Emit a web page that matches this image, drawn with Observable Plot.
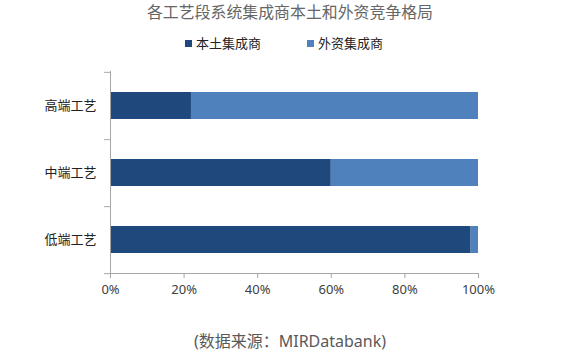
<!DOCTYPE html>
<html>
<head>
<meta charset="utf-8">
<script src="https://cdn.jsdelivr.net/npm/d3@7"></script>
<script src="https://cdn.jsdelivr.net/npm/@observablehq/plot@0.6"></script>
<style>
  html, body { margin: 0; padding: 0; background: #fff; }
  #wrap { position: relative; width: 588px; height: 356px; overflow: hidden;
    font-family: "Noto Sans", "Noto Sans CJK SC", sans-serif; }
  #title { position: absolute; top: 1px; left: -4px; width: 588px; text-align: center; white-space: nowrap;
    font-size: 15.9px; color: #666; line-height: 22px; }
  #legend { position: absolute; top: 34px; left: 0; width: 588px; height: 18px; }
  .li { position: absolute; top: 0; font-size: 13px; color: #222; line-height: 18px; white-space: nowrap; }
  .sw { display: inline-block; width: 7px; height: 7px; margin-right: 4px; vertical-align: 1px; }
  #chart { position: absolute; top: 60px; left: 0; }
  #caption { position: absolute; top: 330px; left: -4px; width: 588px; text-align: center; white-space: nowrap;
    font-size: 16px; color: #595959; line-height: 22px; }
</style>
</head>
<body>
<div id="wrap">
  <div id="title">各工艺段系统集成商本土和外资竞争格局</div>
  <div id="legend"></div>
  <div id="chart"></div>
  <div id="caption">(数据来源：MIRDatabank)</div>
</div>
<script>
const categories = ["高端工艺", "中端工艺", "低端工艺"];
const seriesNames = ["本土集成商", "外资集成商"];
const localShare = [0.22, 0.60, 0.98];
const foreignShare = [0.78, 0.40, 0.02];
const xTicks = [0, 0.2, 0.4, 0.6, 0.8, 1.0];
const colors = ["#1F497D", "#4F81BD"];

const rows = [];
categories.forEach((c, i) => {
  rows.push({cat: c, series: seriesNames[0], value: localShare[i]});
  rows.push({cat: c, series: seriesNames[1], value: foreignShare[i]});
});

// legend
const legend = document.getElementById("legend");
const legendX = [185, 307];
seriesNames.forEach((s, i) => {
  const d = document.createElement("div");
  d.className = "li";
  d.style.left = legendX[i] + "px";
  d.innerHTML = `<span class="sw" style="background:${colors[i]}"></span>${s}`;
  legend.appendChild(d);
});

const W = 588, H = 245, mTop = 11, mBottom = 32;
const halfStep = (H - mTop - mBottom) / categories.length / 2;
const axisColor = "#a6a6a6";

const chart = Plot.plot({
  width: W,
  height: H,
  marginLeft: 110,
  marginRight: 110,
  marginTop: mTop,
  marginBottom: mBottom,
  style: {fontFamily: '"Noto Sans", "Noto Sans CJK SC", sans-serif', background: "#fff"},
  x: {domain: [0, 1]},
  y: {domain: categories, paddingInner: 0.6, paddingOuter: 0.3},
  color: {domain: seriesNames, range: colors},
  marks: [
    Plot.barX(rows, Plot.stackX({x: "value", y: "cat", fill: "series", order: seriesNames})),
    Plot.frame({anchor: "left", stroke: axisColor, strokeOpacity: 1}),
    Plot.frame({anchor: "bottom", stroke: axisColor, strokeOpacity: 1}),
    Plot.axisX({ticks: xTicks, tickFormat: d3.format(".0%"), tickSize: 5, tickPadding: 6,
      stroke: axisColor, strokeOpacity: 1, fill: "#404040", fontSize: 13, label: null}),
    Plot.axisY({tickSize: 0, tickPadding: 14, fill: "#222", fontSize: 13, label: null}),
    Plot.axisY([categories[0]], {tickSize: 6, tickFormat: null, dy: -halfStep, stroke: axisColor, strokeOpacity: 1, label: null}),
    Plot.axisY(categories, {tickSize: 6, tickFormat: null, dy: halfStep, stroke: axisColor, strokeOpacity: 1, label: null})
  ]
});
document.getElementById("chart").appendChild(chart);
</script>
</body>
</html>
